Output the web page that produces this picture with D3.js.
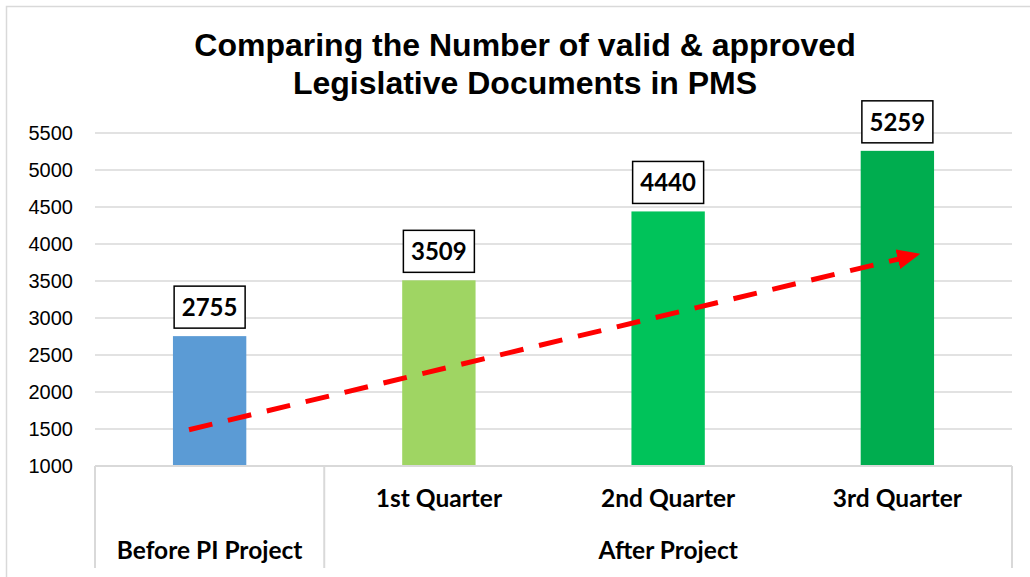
<!DOCTYPE html>
<html>
<head>
<meta charset="utf-8">
<script src="https://cdn.jsdelivr.net/npm/d3@7"></script>
<style>
  body { margin: 0; background: #fff; }
  svg { display: block; }
</style>
</head>
<body>
<div id="chart"></div>
<script>
// data
const categories = ['Before PI Project', '1st Quarter', '2nd Quarter', '3rd Quarter']
const groups = [
    { label: 'Before PI Project', from: 0, to: 0 },
    { label: 'After Project', from: 1, to: 3 }
]
const values = [2755, 3509, 4440, 5259]
const barColors = ['#5B9BD5', '#9FD563', '#00C35A', '#00AD4F']
const yTicks = [1000, 1500, 2000, 2500, 3000, 3500, 4000, 4500, 5000, 5500]
const titleLines = ['Comparing the Number of valid & approved', 'Legislative Documents in PMS']
// trend arrow: [category position (band index + fraction), value]
const trend = [[0.41, 1490], [3.59, 3860]]

const width = 1030, height = 577
const plotLeft = 95, plotRight = 1012, plotTop = 133, plotBottom = 466

const svg = d3.select('#chart').append('svg')
    .attr('width', width).attr('height', height)

svg.append('rect')
    .attr('x', 6.5).attr('y', 6.5)
    .attr('width', width).attr('height', height)
    .attr('fill', '#fff').attr('stroke', '#D9D9D9').attr('stroke-width', 1.5)

// title
svg.append('g').selectAll('text')
    .data(titleLines)
    .enter()
    .append('text')
    .attr('x', 525)
    .attr('y', (d, i) => 56 + i * 38)
    .attr('text-anchor', 'middle')
    .style('font-family', '"Liberation Sans", Arial, sans-serif')
    .style('font-weight', 'bold')
    .style('font-size', '32px')
    .text(d => d)

const x = d3.scaleBand().domain(categories).range([plotLeft, plotRight])
    .paddingInner(0.68).paddingOuter(0.34)
const step = x.step()
const y = d3.scaleLinear().domain([1000, 5500]).range([plotBottom, plotTop])
const xPos = d3.scaleLinear().domain([0, 1]).range([plotLeft, plotLeft + step])

// gridlines
svg.append('g').selectAll('line')
    .data(yTicks.slice(1))
    .enter()
    .append('line')
    .attr('x1', plotLeft).attr('x2', plotRight)
    .attr('y1', d => y(d)).attr('y2', d => y(d))
    .attr('stroke', '#D9D9D9').attr('stroke-width', 1.5)

// y axis labels
const yAxis = svg.append('g')
    .attr('transform', `translate(${plotLeft - 22},0)`)
    .call(d3.axisLeft(y).tickValues(yTicks).tickFormat(d3.format('d')).tickSize(0).tickPadding(0))
yAxis.select('.domain').remove()
yAxis.selectAll('text')
    .style('font-family', '"Liberation Sans", Arial, sans-serif')
    .style('font-size', '20px')
    .attr('fill', '#000')

// bars
svg.append('g').selectAll('rect')
    .data(values)
    .enter()
    .append('rect')
    .attr('x', (d, i) => x(categories[i]))
    .attr('y', d => y(d))
    .attr('width', x.bandwidth())
    .attr('height', d => y(1000) - y(d))
    .style('fill', (d, i) => barColors[i])

// category table
const table = svg.append('g')
table.append('line')
    .attr('x1', plotLeft).attr('x2', plotRight)
    .attr('y1', plotBottom).attr('y2', plotBottom)
    .attr('stroke', '#D9D9D9').attr('stroke-width', 2)
const seps = [0, 1, 4]
table.selectAll('line.sep')
    .data(seps)
    .enter()
    .append('line')
    .attr('class', 'sep')
    .attr('x1', d => xPos(d)).attr('x2', d => xPos(d))
    .attr('y1', plotBottom).attr('y2', 568)
    .attr('stroke', '#D9D9D9').attr('stroke-width', 2)

const labelFont = 'Lato, "Open Sans", sans-serif'
table.selectAll('text.cat')
    .data(categories.slice(1))
    .enter()
    .append('text')
    .attr('class', 'cat')
    .attr('x', d => x(d) + x.bandwidth() / 2)
    .attr('y', 507)
    .attr('text-anchor', 'middle')
    .style('font-family', labelFont)
    .style('font-weight', 'bold')
    .style('font-size', '24.5px')
    .text(d => d)
table.selectAll('text.grp')
    .data(groups)
    .enter()
    .append('text')
    .attr('class', 'grp')
    .attr('x', d => (xPos(d.from) + xPos(d.to + 1)) / 2)
    .attr('y', 559)
    .attr('text-anchor', 'middle')
    .style('font-family', labelFont)
    .style('font-weight', 'bold')
    .style('font-size', '24.5px')
    .text(d => d.label)

// trend arrow
svg.append('defs').append('marker')
    .attr('id', 'head')
    .attr('viewBox', '0 0 10 10')
    .attr('refX', 9).attr('refY', 5)
    .attr('markerWidth', 4.6).attr('markerHeight', 4)
    .attr('orient', 'auto')
    .attr('preserveAspectRatio', 'none')
    .append('path')
    .attr('d', 'M0,0 L10,5 L0,10 Z')
    .attr('fill', '#FF0000')
svg.append('path')
    .datum(trend)
    .attr('d', d3.line().x(d => xPos(d[0])).y(d => y(d[1])))
    .attr('stroke', '#FF0000')
    .attr('stroke-width', 5)
    .attr('stroke-dasharray', '24,16')
    .attr('fill', 'none')
    .attr('marker-end', 'url(#head)')

// data labels
const lab = svg.append('g').selectAll('g')
    .data(values)
    .enter()
    .append('g')
    .attr('transform', (d, i) => `translate(${x(categories[i]) + x.bandwidth() / 2},${y(d) - 8})`)
lab.append('rect')
    .attr('x', -35.5).attr('y', -42)
    .attr('width', 71).attr('height', 42)
    .attr('fill', '#fff').attr('stroke', '#000').attr('stroke-width', 1.5)
lab.append('text')
    .attr('y', -12)
    .attr('text-anchor', 'middle')
    .style('font-family', labelFont)
    .style('font-weight', 'bold')
    .style('font-size', '24px')
    .text(d => d)
</script>
</body>
</html>
